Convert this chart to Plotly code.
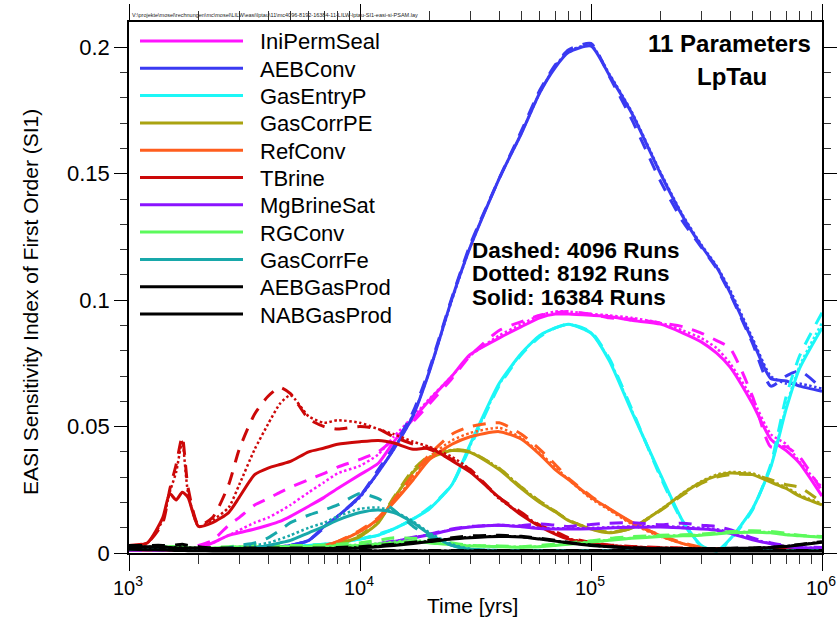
import plotly.graph_objects as go

# Sampling times [years]
T_YEARS = [1000, 1200, 1400, 1500, 1600, 1700, 1800, 2000,
           2300, 2700, 3000, 3500, 4000, 4500, 5000,
           6000, 7000, 8000, 10000, 12000, 14000, 17000,
           20000, 25000, 30000, 40000, 50000, 60000, 70000, 80000,
           100000, 120000, 150000, 200000, 250000, 300000, 350000, 400000,
           500000, 600000, 700000, 800000, 1000000]

PARAMETERS = ["IniPermSeal", "AEBConv", "GasEntryP", "GasCorrPE", "RefConv", "TBrine",
              "MgBrineSat", "RGConv", "GasCorrFe", "AEBGasProd", "NABGasProd"]
COLORS = ["#ff14ff", "#3a3af2", "#1cf7f7", "#aaa311", "#ff5e1e", "#cc0808",
          "#8a14ff", "#5cfa5c", "#18a8aa", "#000000", "#000000"]
RUN_LABELS = ["Dashed: 4096 Runs", "Dotted: 8192 Runs", "Solid: 16384 Runs"]

X_TICKS = [1e3, 1e4, 1e5, 1e6]
X_TICKTEXT = ["10<sup>3</sup>", "10<sup>4</sup>", "10<sup>5</sup>", "10<sup>6</sup>"]
Y_TICKS = [0, 0.05, 0.1, 0.15, 0.2]
Y_TICKTEXT = ["0", "0.05", "0.1", "0.15", "0.2"]

# ---- first order EASI indices, one list per parameter and sample size ----
ini_4096 = [0.0015, 0.0015, 0.0015, 0.0015, 0.0015, 0.0015, 0.002, 0.003,
            0.005, 0.011, 0.014, 0.019, 0.0215, 0.024, 0.026,
            0.029, 0.0315, 0.034, 0.037, 0.040, 0.045, 0.052,
            0.059, 0.069, 0.078, 0.088, 0.0915, 0.094, 0.095, 0.0955,
            0.0945, 0.093, 0.0925, 0.091, 0.0895, 0.087, 0.084, 0.081,
            0.062, 0.042, 0.042, 0.038, 0.0245]
ini_8192 = [0.0015, 0.0015, 0.0015, 0.0015, 0.0015, 0.0015, 0.0016, 0.002,
            0.004, 0.007, 0.009, 0.012, 0.014, 0.0165, 0.019,
            0.024, 0.028, 0.0315, 0.0345, 0.039, 0.046, 0.054,
            0.061, 0.070, 0.078, 0.086, 0.0905, 0.094, 0.0955, 0.0955,
            0.0945, 0.094, 0.093, 0.091, 0.088, 0.085, 0.081, 0.075,
            0.061, 0.047, 0.043, 0.036, 0.026]
ini_16384 = [0.0015, 0.0015, 0.0015, 0.0015, 0.0015, 0.0015, 0.0016, 0.002,
             0.004, 0.007, 0.008, 0.0095, 0.011, 0.0125, 0.0145,
             0.0185, 0.022, 0.0255, 0.031, 0.0355, 0.044, 0.053,
             0.0605, 0.070, 0.0785, 0.085, 0.0895, 0.093, 0.0945, 0.0945,
             0.094, 0.0935, 0.092, 0.0905, 0.087, 0.0835, 0.079, 0.0735,
             0.059, 0.045, 0.0405, 0.0355, 0.0225]

aeb_4096 = [0.0015, 0.0015, 0.0015, 0.0015, 0.0015, 0.0015, 0.0015, 0.0015,
            0.0015, 0.0015, 0.0015, 0.0018, 0.002, 0.0025, 0.003,
            0.005, 0.010, 0.0145, 0.0225, 0.033, 0.042, 0.056,
            0.073, 0.101, 0.122, 0.148, 0.167, 0.183, 0.193, 0.199,
            0.2015, 0.1885, 0.1715, 0.147, 0.131, 0.121, 0.1125, 0.1025,
            0.083, 0.066, 0.070, 0.072, 0.065]
aeb_8192 = [0.0015, 0.0015, 0.0015, 0.0015, 0.0015, 0.0015, 0.0015, 0.0015,
            0.0015, 0.0015, 0.0015, 0.0018, 0.002, 0.0025, 0.003,
            0.005, 0.0105, 0.0145, 0.022, 0.032, 0.041, 0.0545,
            0.072, 0.100, 0.121, 0.148, 0.166, 0.182, 0.1925, 0.1985,
            0.2008, 0.1895, 0.1745, 0.1505, 0.1335, 0.122, 0.1135, 0.104,
            0.085, 0.070, 0.067, 0.067, 0.065]
aeb_16384 = [0.0015, 0.0015, 0.0015, 0.0015, 0.0015, 0.0015, 0.0015, 0.0015,
             0.0015, 0.0015, 0.0015, 0.0018, 0.002, 0.0025, 0.003,
             0.005, 0.0105, 0.0145, 0.0225, 0.032, 0.041, 0.0545,
             0.072, 0.1005, 0.121, 0.148, 0.166, 0.182, 0.192, 0.198,
             0.2005, 0.189, 0.174, 0.150, 0.133, 0.1215, 0.113, 0.103,
             0.084, 0.069, 0.068, 0.066, 0.064]

gep_4096 = [0.0015, 0.0015, 0.0015, 0.0015, 0.0015, 0.0015, 0.0015, 0.0015,
            0.0015, 0.0015, 0.002, 0.002, 0.002, 0.0022, 0.0025,
            0.003, 0.0035, 0.004, 0.0055, 0.0075, 0.0095, 0.0135,
            0.018, 0.027, 0.042, 0.066, 0.0785, 0.0855, 0.089, 0.0905,
            0.0875, 0.077, 0.057, 0.030, 0.012, 0.0028, 0.0008, 0.005,
            0.017, 0.035, 0.062, 0.078, 0.095]
gep_8192 = [0.0015, 0.0015, 0.0015, 0.0015, 0.0015, 0.0015, 0.0015, 0.0015,
            0.0015, 0.0015, 0.002, 0.002, 0.002, 0.0022, 0.0025,
            0.003, 0.0035, 0.004, 0.0055, 0.007, 0.0095, 0.0135,
            0.0175, 0.027, 0.0425, 0.0665, 0.079, 0.086, 0.089, 0.0905,
            0.087, 0.0765, 0.0565, 0.0305, 0.0125, 0.003, 0.0008, 0.0055,
            0.0175, 0.034, 0.058, 0.074, 0.091]
gep_16384 = [0.0015, 0.0015, 0.0015, 0.0015, 0.0015, 0.0015, 0.0015, 0.0015,
             0.0015, 0.0015, 0.002, 0.002, 0.002, 0.0022, 0.0025,
             0.003, 0.0035, 0.004, 0.0055, 0.007, 0.0095, 0.0135,
             0.0175, 0.027, 0.043, 0.067, 0.079, 0.086, 0.089, 0.0905,
             0.087, 0.076, 0.056, 0.031, 0.0125, 0.003, 0.0008, 0.0055,
             0.0175, 0.034, 0.057, 0.073, 0.089]

gcpe_4096 = [0.001, 0.001, 0.001, 0.001, 0.001, 0.001, 0.001, 0.001,
             0.001, 0.001, 0.001, 0.001, 0.001, 0.001, 0.0012,
             0.0015, 0.002, 0.0035, 0.007, 0.0125, 0.022, 0.033,
             0.0385, 0.041, 0.040, 0.0335, 0.026, 0.0205, 0.0165, 0.013,
             0.0095, 0.0082, 0.0098, 0.0168, 0.023, 0.0275, 0.030, 0.031,
             0.031, 0.029, 0.027, 0.026, 0.020]
gcpe_8192 = [0.001, 0.001, 0.001, 0.001, 0.001, 0.001, 0.001, 0.001,
             0.001, 0.001, 0.001, 0.001, 0.001, 0.001, 0.0012,
             0.0015, 0.002, 0.0035, 0.0065, 0.012, 0.0215, 0.0325,
             0.038, 0.0408, 0.040, 0.0335, 0.026, 0.0205, 0.0165, 0.013,
             0.0097, 0.0082, 0.010, 0.0172, 0.0238, 0.0283, 0.031, 0.032,
             0.0315, 0.0285, 0.026, 0.023, 0.0195]
gcpe_16384 = [0.001, 0.001, 0.001, 0.001, 0.001, 0.001, 0.001, 0.001,
              0.001, 0.001, 0.001, 0.001, 0.001, 0.001, 0.0012,
              0.0015, 0.002, 0.0035, 0.0065, 0.012, 0.0215, 0.032,
              0.0375, 0.0405, 0.0398, 0.033, 0.0255, 0.020, 0.0163, 0.0128,
              0.0095, 0.008, 0.0098, 0.017, 0.0235, 0.028, 0.0305, 0.0316,
              0.031, 0.028, 0.0255, 0.0225, 0.019]

ref_4096 = [0.001, 0.001, 0.001, 0.001, 0.001, 0.001, 0.001, 0.001,
            0.001, 0.001, 0.001, 0.001, 0.001, 0.0012, 0.0015,
            0.002, 0.003, 0.0045, 0.009, 0.014, 0.021, 0.031,
            0.039, 0.047, 0.050, 0.0515, 0.047, 0.041, 0.035, 0.0295,
            0.0225, 0.0175, 0.012, 0.007, 0.004, 0.0022, 0.0015, 0.0013,
            0.0012, 0.0012, 0.0012, 0.0012, 0.0012]
ref_8192 = [0.001, 0.001, 0.001, 0.001, 0.001, 0.001, 0.001, 0.001,
            0.001, 0.001, 0.001, 0.001, 0.001, 0.0012, 0.0015,
            0.002, 0.003, 0.0045, 0.0085, 0.0135, 0.0205, 0.0295,
            0.038, 0.0445, 0.0475, 0.0495, 0.0455, 0.0395, 0.034, 0.029,
            0.0215, 0.017, 0.0115, 0.0065, 0.0037, 0.002, 0.0015, 0.0013,
            0.0012, 0.0012, 0.0012, 0.0012, 0.0012]
ref_16384 = [0.001, 0.001, 0.001, 0.001, 0.001, 0.001, 0.001, 0.001,
             0.001, 0.001, 0.001, 0.001, 0.001, 0.0012, 0.0015,
             0.002, 0.003, 0.0045, 0.0085, 0.0135, 0.020, 0.029,
             0.037, 0.043, 0.046, 0.048, 0.045, 0.039, 0.033, 0.029,
             0.022, 0.0175, 0.0122, 0.0068, 0.0037, 0.002, 0.0015, 0.0013,
             0.0012, 0.0012, 0.0012, 0.0012, 0.0012]

tbr_4096 = [0.003, 0.004, 0.012, 0.025, 0.035, 0.046, 0.026, 0.011,
            0.014, 0.027, 0.041, 0.055, 0.062, 0.0655, 0.063,
            0.053, 0.050, 0.049, 0.050, 0.049, 0.046, 0.043,
            0.041, 0.037, 0.033, 0.022, 0.016, 0.011, 0.0085, 0.006,
            0.0042, 0.0032, 0.0026, 0.0022, 0.002, 0.0018, 0.0017, 0.0016,
            0.0016, 0.0015, 0.0015, 0.0015, 0.0015]
tbr_8192 = [0.003, 0.004, 0.013, 0.024, 0.032, 0.044, 0.024, 0.0105,
            0.013, 0.018, 0.027, 0.041, 0.051, 0.059, 0.0624,
            0.054, 0.0515, 0.0525, 0.0515, 0.049, 0.047, 0.044,
            0.042, 0.038, 0.033, 0.0215, 0.0155, 0.0108, 0.0078, 0.0057,
            0.004, 0.0031, 0.0025, 0.0021, 0.0019, 0.0017, 0.0016, 0.0016,
            0.0015, 0.0015, 0.0015, 0.0015, 0.0015]
tbr_16384 = [0.003, 0.004, 0.014, 0.0235, 0.021, 0.024, 0.022, 0.0105,
             0.012, 0.016, 0.022, 0.031, 0.0336, 0.035, 0.0362,
             0.040, 0.0415, 0.043, 0.044, 0.0445, 0.0435, 0.041,
             0.0415, 0.0365, 0.032, 0.022, 0.015, 0.0105, 0.0075, 0.0055,
             0.0038, 0.003, 0.0024, 0.002, 0.0018, 0.0017, 0.0016, 0.0016,
             0.0015, 0.0015, 0.0015, 0.0015, 0.0015]

mg_4096 = [0.0012, 0.0012, 0.0012, 0.0012, 0.0012, 0.0012, 0.0012, 0.0012,
           0.0012, 0.0012, 0.0013, 0.0013, 0.0014, 0.0015, 0.0016,
           0.0018, 0.002, 0.0023, 0.003, 0.0038, 0.0048, 0.0062,
           0.0075, 0.0095, 0.0105, 0.011, 0.0108, 0.0115, 0.011, 0.0105,
           0.0113, 0.0118, 0.012, 0.0112, 0.0118, 0.011, 0.0105, 0.0092,
           0.006, 0.004, 0.003, 0.0025, 0.0022]
mg_8192 = [0.0012, 0.0012, 0.0012, 0.0012, 0.0012, 0.0012, 0.0012, 0.0012,
           0.0012, 0.0012, 0.0013, 0.0013, 0.0014, 0.0015, 0.0016,
           0.0018, 0.002, 0.0022, 0.0028, 0.0036, 0.0046, 0.0061,
           0.0073, 0.0093, 0.0104, 0.0111, 0.0106, 0.0100, 0.0098, 0.0098,
           0.0099, 0.0102, 0.0105, 0.0106, 0.0103, 0.0099, 0.0094, 0.0082,
           0.0055, 0.0038, 0.0027, 0.0022, 0.002]
mg_16384 = [0.0012, 0.0012, 0.0012, 0.0012, 0.0012, 0.0012, 0.0012, 0.0012,
            0.0012, 0.0012, 0.0013, 0.0013, 0.0014, 0.0015, 0.0016,
            0.0018, 0.002, 0.0022, 0.0028, 0.0035, 0.0045, 0.006,
            0.0072, 0.0092, 0.0103, 0.011, 0.0104, 0.0097, 0.0095, 0.0095,
            0.0096, 0.0099, 0.0102, 0.0103, 0.0099, 0.0095, 0.009, 0.0078,
            0.0052, 0.0036, 0.0025, 0.0021, 0.002]

rg_4096 = [0.0025, 0.0025, 0.0028, 0.003, 0.003, 0.0028, 0.0025, 0.0022,
           0.0022, 0.0025, 0.0028, 0.003, 0.003, 0.003, 0.003,
           0.003, 0.0032, 0.0035, 0.004, 0.005, 0.006, 0.0058,
           0.0055, 0.004, 0.003, 0.0028, 0.0025, 0.003, 0.0035, 0.004,
           0.0048, 0.0058, 0.0065, 0.007, 0.0072, 0.0075, 0.008, 0.0085,
           0.0088, 0.0085, 0.0078, 0.007, 0.0065]
rg_8192 = [0.002, 0.002, 0.0023, 0.0026, 0.0026, 0.0023, 0.002, 0.002,
           0.002, 0.0023, 0.0025, 0.0026, 0.0026, 0.0026, 0.0026,
           0.0026, 0.0027, 0.003, 0.0033, 0.0038, 0.0045, 0.005,
           0.0045, 0.0035, 0.003, 0.0026, 0.0024, 0.0026, 0.0032, 0.0037,
           0.0045, 0.0052, 0.006, 0.0067, 0.007, 0.0072, 0.0077, 0.0082,
           0.0084, 0.0082, 0.0074, 0.0069, 0.0063]
rg_16384 = [0.002, 0.002, 0.0022, 0.0025, 0.0025, 0.0022, 0.002, 0.002,
            0.002, 0.0022, 0.0025, 0.0025, 0.0025, 0.0025, 0.0025,
            0.0025, 0.0025, 0.0028, 0.003, 0.0035, 0.004, 0.0045,
            0.004, 0.0032, 0.0028, 0.0025, 0.0023, 0.0025, 0.003, 0.0035,
            0.0043, 0.005, 0.0058, 0.0065, 0.0068, 0.007, 0.0075, 0.008,
            0.0082, 0.008, 0.0072, 0.0068, 0.0062]

gcfe_4096 = [0.0015, 0.0015, 0.0015, 0.0015, 0.0015, 0.0015, 0.0015, 0.0015,
             0.0015, 0.002, 0.003, 0.004, 0.006, 0.009, 0.012,
             0.015, 0.017, 0.019, 0.0235, 0.0215, 0.017, 0.0105,
             0.0065, 0.003, 0.0015, 0.001, 0.001, 0.001, 0.001, 0.001,
             0.001, 0.001, 0.001, 0.001, 0.001, 0.001, 0.001, 0.001,
             0.001, 0.001, 0.001, 0.001, 0.001]
gcfe_8192 = [0.0015, 0.0015, 0.0015, 0.0015, 0.0015, 0.0015, 0.0015, 0.0015,
             0.0015, 0.0015, 0.002, 0.003, 0.004, 0.0055, 0.007,
             0.010, 0.012, 0.0145, 0.0175, 0.018, 0.0165, 0.0125,
             0.008, 0.0035, 0.0017, 0.001, 0.001, 0.001, 0.001, 0.001,
             0.001, 0.001, 0.001, 0.001, 0.001, 0.001, 0.001, 0.001,
             0.001, 0.001, 0.001, 0.001, 0.001]
gcfe_16384 = [0.0015, 0.0015, 0.0015, 0.0015, 0.0015, 0.0015, 0.0015, 0.0015,
              0.0015, 0.0015, 0.0015, 0.002, 0.003, 0.004, 0.005,
              0.008, 0.0105, 0.013, 0.016, 0.017, 0.016, 0.012,
              0.0075, 0.003, 0.0015, 0.001, 0.001, 0.001, 0.001, 0.001,
              0.001, 0.001, 0.001, 0.001, 0.001, 0.001, 0.001, 0.001,
              0.001, 0.001, 0.001, 0.001, 0.001]

aebg_4096 = [0.003, 0.003, 0.003, 0.0028, 0.0032, 0.0035, 0.003, 0.0025,
             0.002, 0.002, 0.002, 0.002, 0.002, 0.002, 0.002,
             0.002, 0.002, 0.0022, 0.0025, 0.003, 0.0035, 0.0043,
             0.005, 0.006, 0.0068, 0.007, 0.0066, 0.0058, 0.005, 0.0042,
             0.0032, 0.0026, 0.0021, 0.0019, 0.0018, 0.0018, 0.0018, 0.0019,
             0.002, 0.0023, 0.0028, 0.0034, 0.0045]
aebg_8192 = [0.0025, 0.0025, 0.0025, 0.0023, 0.0022, 0.0022, 0.0021, 0.002,
             0.0019, 0.0019, 0.0019, 0.0019, 0.0019, 0.0019, 0.0019,
             0.0019, 0.0019, 0.002, 0.0022, 0.0027, 0.0032, 0.004,
             0.0047, 0.0057, 0.0063, 0.0067, 0.0064, 0.0056, 0.0048, 0.0041,
             0.0031, 0.0025, 0.002, 0.0018, 0.0017, 0.0017, 0.0017, 0.0018,
             0.0019, 0.0022, 0.0027, 0.0033, 0.0044]
aebg_16384 = [0.0025, 0.0025, 0.0025, 0.0022, 0.002, 0.002, 0.002, 0.002,
              0.0018, 0.0018, 0.0018, 0.0018, 0.0018, 0.0018, 0.0018,
              0.0018, 0.0018, 0.0018, 0.002, 0.0025, 0.003, 0.0038,
              0.0045, 0.0055, 0.006, 0.0065, 0.0063, 0.0055, 0.0047, 0.004,
              0.003, 0.0025, 0.002, 0.0018, 0.0017, 0.0017, 0.0017, 0.0018,
              0.0019, 0.0022, 0.0026, 0.0032, 0.0043]

nabg_4096 = [0.0025, 0.0025, 0.0022, 0.002, 0.0018, 0.0015, 0.0013, 0.0012,
             0.0012, 0.0011, 0.0011, 0.0011, 0.001, 0.001, 0.001,
             0.001, 0.001, 0.001, 0.001, 0.001, 0.001, 0.001,
             0.001, 0.001, 0.001, 0.001, 0.001, 0.001, 0.001, 0.001,
             0.001, 0.001, 0.001, 0.001, 0.001, 0.001, 0.001, 0.001,
             0.001, 0.001, 0.001, 0.001, 0.001]
nabg_8192 = [0.0018, 0.0016, 0.0014, 0.0013, 0.0012, 0.0011, 0.001, 0.001,
             0.0009, 0.0009, 0.0009, 0.0009, 0.0009, 0.0009, 0.0009,
             0.0009, 0.0009, 0.0009, 0.0009, 0.0009, 0.0009, 0.0009,
             0.0009, 0.0009, 0.0009, 0.0009, 0.0009, 0.0009, 0.0009, 0.0009,
             0.0009, 0.0009, 0.0009, 0.0009, 0.0009, 0.0009, 0.0009, 0.0009,
             0.0009, 0.0009, 0.0009, 0.0009, 0.0009]
nabg_16384 = [0.0015, 0.0013, 0.0012, 0.0011, 0.001, 0.001, 0.0009, 0.0009,
              0.0008, 0.0008, 0.0008, 0.0008, 0.0008, 0.0008, 0.0008,
              0.0008, 0.0008, 0.0008, 0.0008, 0.0008, 0.0008, 0.0008,
              0.0008, 0.0008, 0.0008, 0.0008, 0.0008, 0.0008, 0.0008, 0.0008,
              0.0008, 0.0008, 0.0008, 0.0008, 0.0008, 0.0008, 0.0008, 0.0008,
              0.0008, 0.0008, 0.0008, 0.0008, 0.0008]

SERIES = [
    (ini_4096, ini_8192, ini_16384),
    (aeb_4096, aeb_8192, aeb_16384),
    (gep_4096, gep_8192, gep_16384),
    (gcpe_4096, gcpe_8192, gcpe_16384),
    (ref_4096, ref_8192, ref_16384),
    (tbr_4096, tbr_8192, tbr_16384),
    (mg_4096, mg_8192, mg_16384),
    (rg_4096, rg_8192, rg_16384),
    (gcfe_4096, gcfe_8192, gcfe_16384),
    (aebg_4096, aebg_8192, aebg_16384),
    (nabg_4096, nabg_8192, nabg_16384),
]

# line style per sample size: dashed / dotted / solid
RUN_STYLES = [dict(width=3, dash="13px,10px"),
              dict(width=2.5, dash="2.5px,2.5px"),
              dict(width=3, dash="solid")]

FONT = "Liberation Sans, Arial, Helvetica, sans-serif"

fig = go.Figure()
for name, color, runs in zip(PARAMETERS, COLORS, SERIES):
    for style, values in zip(RUN_STYLES, runs):
        fig.add_trace(go.Scatter(
            x=T_YEARS, y=values, mode="lines", name=name,
            line=dict(color=color, shape="spline", smoothing=0.6, **style),
            showlegend=False, hoverinfo="skip"))

# plot area in pixels (for placing legend and labels in paper coordinates)
W, H = 837, 618
L, R, TOP, BOT = 129, 822, 22, 553
PW, PH = R - L, BOT - TOP


def px(x):
    return (x - L) / PW


def py(y):
    return (BOT - y) / PH


shapes = []
annotations = []

# hand-drawn legend block in the upper-left corner
for i, (name, color) in enumerate(zip(PARAMETERS, COLORS)):
    yc = 41 + 27.3 * i
    shapes.append(dict(type="line", xref="paper", yref="paper",
                       x0=px(140), x1=px(243), y0=py(yc), y1=py(yc),
                       line=dict(color=color, width=3)))
    annotations.append(dict(text=name, xref="paper", yref="paper",
                            x=px(258), y=py(yc + 1), xanchor="left", yanchor="middle",
                            showarrow=False, font=dict(size=22, family=FONT, color="black")))

annotations += [
    dict(text="<b>11 Parameters</b>", x=px(729), y=py(44), xanchor="center", yanchor="middle",
         showarrow=False, xref="paper", yref="paper", font=dict(size=24, family=FONT)),
    dict(text="<b>LpTau</b>", x=px(732), y=py(77), xanchor="center", yanchor="middle",
         showarrow=False, xref="paper", yref="paper", font=dict(size=24, family=FONT)),
]
for i, label in enumerate(RUN_LABELS):
    annotations.append(dict(text="<b>%s</b>" % label, x=px(470), y=py(250 + 23.5 * i),
                            xanchor="left", yanchor="middle", showarrow=False,
                            xref="paper", yref="paper", font=dict(size=22.5, family=FONT)))

# axis titles
annotations.append(dict(text="EASI Sensitivity Index of First Order (SI1)", x=px(30), y=py(302),
                        xanchor="center", yanchor="middle", textangle=-90, showarrow=False,
                        xref="paper", yref="paper", font=dict(size=21, family=FONT)))
annotations.append(dict(text="Time [yrs]", x=px(472), y=py(605), xanchor="center", yanchor="middle",
                        showarrow=False, xref="paper", yref="paper", font=dict(size=21, family=FONT)))
# layout file path printed above the frame
annotations.append(dict(
    text="V:\\projekte\\mosel\\rechnungen\\mc\\mosel\\LILW\\easi\\lptau\\11\\mc4096-8192-16384-11-LILW-lptau-SI1-easi-si-PSAM.lay",
    x=px(130), y=py(15), xanchor="left", yanchor="middle", showarrow=False,
    xref="paper", yref="paper", font=dict(size=5.5, family=FONT, color="#222")))

x_minor = [m * 10 ** d for d in range(3, 6) for m in range(2, 10)]
y_minor = [k / 100 for k in range(1, 21) if k % 5]

fig.update_layout(
    width=W, height=H,
    margin=dict(l=L, r=W - R, t=TOP, b=H - BOT, autoexpand=False),
    paper_bgcolor="white", plot_bgcolor="white",
    showlegend=False,
    font=dict(family=FONT, color="black"),
    shapes=shapes, annotations=annotations,
    xaxis=dict(type="log", range=[3, 6], tickmode="array", tickvals=X_TICKS, ticktext=X_TICKTEXT,
               ticks="outside", ticklen=16, tickwidth=1.2, tickcolor="black", automargin=False,
               ticklabeloverflow="allow", ticklabelshift=-1,
               showline=True, linecolor="black", linewidth=1.5, mirror="allticks",
               showgrid=False, zeroline=False, tickfont=dict(size=20, family=FONT),
               minor=dict(tickmode="array", tickvals=x_minor, ticks="outside", ticklen=9,
                          tickwidth=1, tickcolor="#333", showgrid=False)),
    yaxis=dict(range=[0, 0.21], tickmode="array", tickvals=Y_TICKS, ticktext=Y_TICKTEXT,
               ticks="outside", ticklen=13, tickwidth=1.2, tickcolor="black", automargin=False,
               ticklabeloverflow="allow",
               showline=True, linecolor="black", linewidth=1.5, mirror="allticks",
               showgrid=False, zeroline=False, tickfont=dict(size=22, family=FONT),
               minor=dict(tickmode="array", tickvals=y_minor, ticks="outside", ticklen=7,
                          tickwidth=1, tickcolor="#333", showgrid=False)),
)

fig.write_html("out.html")
